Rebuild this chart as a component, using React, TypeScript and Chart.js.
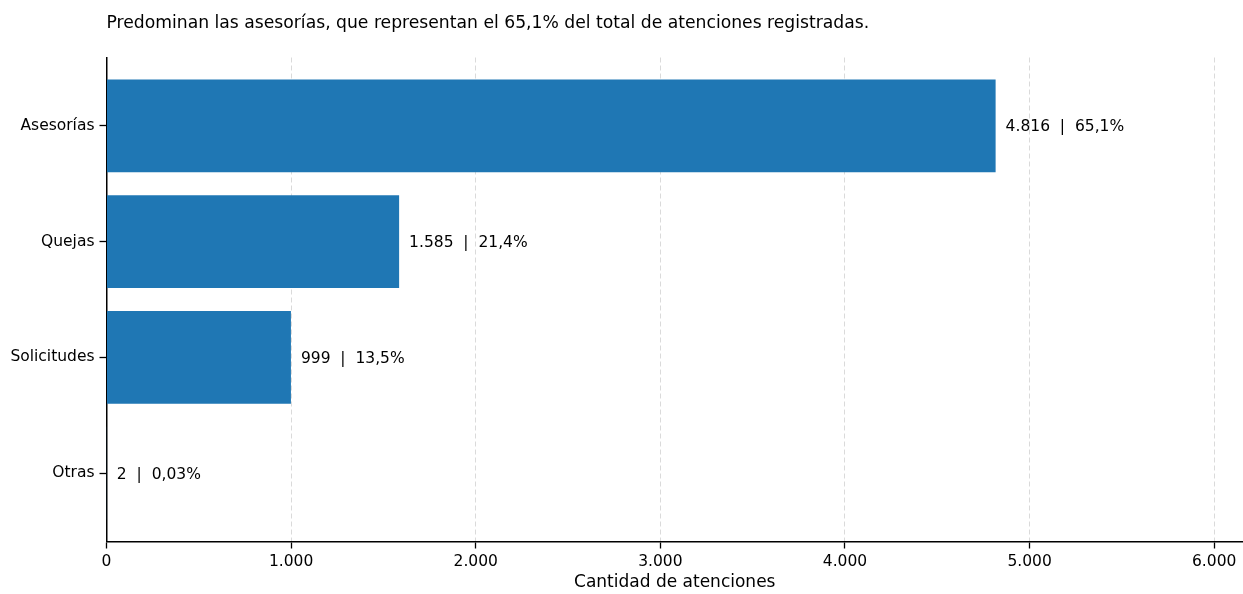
import React, { useEffect, useRef } from "react";
import { Chart, registerables } from "chart.js";

Chart.register(...registerables);

const chartTitle =
  "Predominan las asesorías, que representan el 65,1% del total de atenciones registradas.";
const xAxisTitle = "Cantidad de atenciones";
const categories = ["Asesorías", "Quejas", "Solicitudes", "Otras"];
const counts = [4816, 1585, 999, 2];
const countLabels = ["4.816", "1.585", "999", "2"];
const shareLabels = ["65,1%", "21,4%", "13,5%", "0,03%"];
const xTicks = [0, 1000, 2000, 3000, 4000, 5000, 6000];
const xTickLabels = ["0", "1.000", "2.000", "3.000", "4.000", "5.000", "6.000"];

const FONT = "'DejaVu Sans', sans-serif";
const BAR_COLOR = "#1f77b4";

export default function App() {
  const canvasRef = useRef<HTMLCanvasElement | null>(null);

  useEffect(() => {
    const canvas = canvasRef.current;
    if (!canvas) return;
    Chart.defaults.font.family = FONT;

    const overlay = {
      id: "overlay",
      afterDatasetsDraw(chart: any) {
        const ctx = chart.ctx;
        const area = chart.chartArea;
        ctx.save();
        ctx.fillStyle = "#000";
        ctx.font = `17.2px ${FONT}`;
        ctx.textAlign = "left";
        ctx.textBaseline = "alphabetic";
        ctx.fillText(chartTitle, area.left, 28);
        ctx.font = `15.5px ${FONT}`;
        ctx.textBaseline = "middle";
        const meta = chart.getDatasetMeta(0);
        meta.data.forEach((el: any, i: number) => {
          const text = `${countLabels[i]}  |  ${shareLabels[i]}`;
          ctx.fillText(text, el.x + 10, el.y + 1.5);
        });
        ctx.restore();
      },
    };

    const chart = new Chart(canvas, {
      type: "bar",
      data: {
        datasets: [
          {
            data: counts.map((v, i) => ({ x: v, y: i })),
            backgroundColor: BAR_COLOR,
            borderWidth: 0,
            categoryPercentage: 1,
            barPercentage: 0.8,
          },
        ],
      },
      options: {
        indexAxis: "y",
        responsive: false,
        animation: false,
        layout: { padding: { top: 57.5, left: 0, right: 0, bottom: 0 } },
        plugins: {
          legend: { display: false },
          tooltip: { enabled: false },
          title: { display: false },
        },
        scales: {
          x: {
            type: "linear",
            min: 0,
            max: 6156,
            offset: false,
            afterBuildTicks: (scale: any) => {
              scale.ticks = xTicks.map((v) => ({ value: v }));
            },
            afterFit: (scale: any) => {
              scale.height = 52.5;
            },
            ticks: {
              color: "#000",
              font: { size: 15.5, family: FONT },
              padding: 4,
              maxRotation: 0,
              autoSkip: false,
              callback: (v: any) => xTickLabels[xTicks.indexOf(Number(v))] ?? "",
            },
            grid: {
              display: true,
              offset: false,
              drawOnChartArea: true,
              drawTicks: true,
              color: "#dadada",
              lineWidth: 1,
              tickLength: 7,
              tickColor: "#000",
              tickWidth: 1.3,
            },
            border: { display: true, color: "#000", width: 1.5, dash: [5, 3] },
            title: {
              display: true,
              text: xAxisTitle,
              color: "#000",
              font: { size: 17, family: FONT },
              padding: { top: 0, bottom: 1 },
            },
          },
          y: {
            type: "linear",
            min: -0.59,
            max: 3.59,
            reverse: true,
            offset: false,
            afterBuildTicks: (scale: any) => {
              scale.ticks = categories.map((_, i) => ({ value: i }));
            },
            afterFit: (scale: any) => {
              scale.width = 106.5;
            },
            ticks: {
              color: "#000",
              font: { size: 15.5, family: FONT },
              padding: 5,
              autoSkip: false,
              callback: (v: any) => categories[Number(v)] ?? "",
            },
            grid: {
              display: true,
              offset: false,
              drawOnChartArea: false,
              drawTicks: true,
              tickLength: 7,
              tickColor: "#000",
              tickWidth: 1.3,
            },
            border: { display: true, color: "#000", width: 1.5 },
          },
        },
      },
      plugins: [overlay],
    } as any);

    return () => chart.destroy();
  }, []);

  return (
    <canvas
      ref={canvasRef}
      width={1243}
      height={594}
      style={{ position: "absolute", left: 0, top: 0, width: 1243, height: 594 }}
    />
  );
}
